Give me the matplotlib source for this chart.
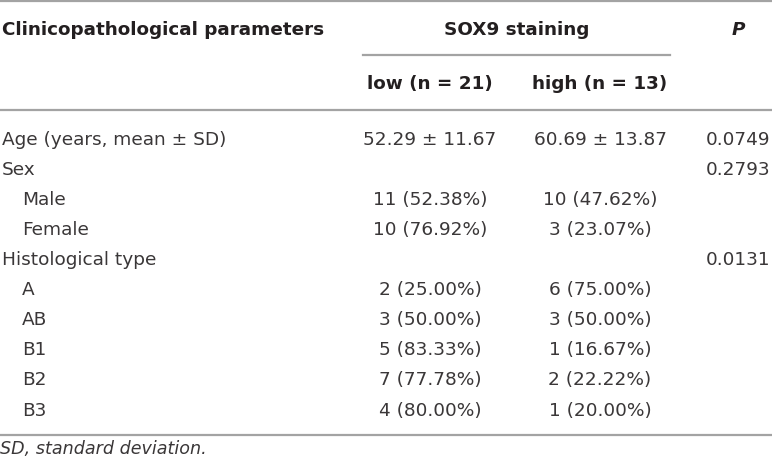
import matplotlib
matplotlib.use("Agg")
import matplotlib.pyplot as plt
from matplotlib.lines import Line2D

# ---- data ----
header_param = "Clinicopathological parameters"
header_group = "SOX9 staining"
header_low = "low (n = 21)"
header_high = "high (n = 13)"
header_p = "P"

row_labels = ["Age (years, mean ± SD)", "Sex", "Male", "Female", "Histological type",
              "A", "AB", "B1", "B2", "B3"]
row_indent = [False, False, True, True, False, True, True, True, True, True]
low_vals = ["52.29 ± 11.67", "", "11 (52.38%)", "10 (76.92%)", "",
            "2 (25.00%)", "3 (50.00%)", "5 (83.33%)", "7 (77.78%)", "4 (80.00%)"]
high_vals = ["60.69 ± 13.87", "", "10 (47.62%)", "3 (23.07%)", "",
             "6 (75.00%)", "3 (50.00%)", "1 (16.67%)", "2 (22.22%)", "1 (20.00%)"]
p_vals = ["0.0749", "0.2793", "", "", "0.0131", "", "", "", "", ""]
footnote = "SD, standard deviation."

W, H = 772, 466
fig = plt.figure(figsize=(W / 100, H / 100), dpi=100)
fig.patch.set_facecolor("white")

TXT_B = "#231f20"
TXT = "#3a3738"
LINE = "#a3a3a3"
FAM = ["DejaVu Sans"]
FS = 13.3
FSB = 13.2


def fx(x):
    return x / W


def fy(y):
    return 1 - y / H


def put(x, y, s, ha="left", bold=False, italic=False, size=None):
    fig.text(fx(x), fy(y), s, ha=ha, va="baseline",
             color=TXT_B if bold else TXT, family=FAM,
             fontsize=size if size else (FSB if bold else FS),
             fontweight="bold" if bold else "normal",
             fontstyle="italic" if italic else "normal")


def hline(y, x0, x1):
    fig.add_artist(Line2D([fx(x0), fx(x1)], [fy(y), fy(y)], color=LINE, lw=1.6,
                          transform=fig.transFigure))


x_left = 2
x_indent = 22
x_low = 430
x_high = 600
x_p = 738

# rules
hline(1, 0, W)
hline(55, 363, 670)
hline(110, 0, W)
hline(434.5, 0, W)

# headers
put(x_left, 35.3, header_param, bold=True)
put((363 + 670) / 2, 35.3, header_group, ha="center", bold=True)
put(x_p, 35.3, header_p, ha="center", bold=True, italic=True)
put(x_low, 89.3, header_low, ha="center", bold=True)
put(x_high, 89.3, header_high, ha="center", bold=True)

# body
for i, lab in enumerate(row_labels):
    yb = 138.0 + 30.1 * i + 6.6
    put(x_indent if row_indent[i] else x_left, yb, lab)
    if low_vals[i]:
        put(x_low, yb, low_vals[i], ha="center")
    if high_vals[i]:
        put(x_high, yb, high_vals[i], ha="center")
    if p_vals[i]:
        put(x_p, yb, p_vals[i], ha="center")

put(0, 454.3, footnote, italic=True, size=12.6)

fig.savefig("out.png", dpi=100, facecolor="white")
